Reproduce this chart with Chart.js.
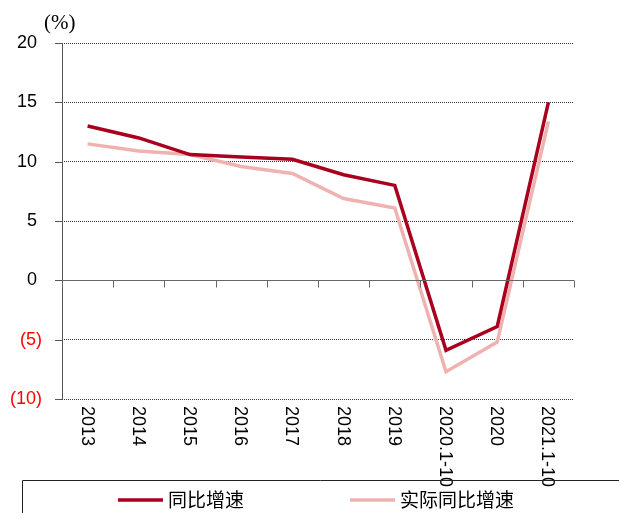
<!DOCTYPE html>
<html>
<head>
<meta charset="utf-8">
<script src="https://cdn.jsdelivr.net/npm/chart.js@4"></script>
<style>
html,body{margin:0;padding:0;background:#fff;}
#wrap{width:619px;height:513px;position:relative;}
</style>
</head>
<body>
<div id="wrap"><canvas id="c" width="619" height="513"></canvas></div>
<script>
const categories = ["2013","2014","2015","2016","2017","2018","2019","2020.1-10","2020","2021.1-10"];
const nominalGrowth = [13.0, 12.0, 10.6, 10.4, 10.2, 8.9, 8.0, -5.9, -3.9, 15.0];
const realGrowth = [11.5, 10.9, 10.6, 9.6, 9.0, 6.9, 6.1, -7.7, -5.2, 13.4];
const seriesNames = ["同比增速", "实际同比增速"];
const yTicks = [-10, -5, 0, 5, 10, 15, 20];
const unitLabel = "(%)";

const RED = "#A8001E";
const PINK = "#EEB2B0";

const decor = {
  id: "decor",
  afterDraw(chart) {
    const ctx = chart.ctx;
    const x = chart.scales.x, y = chart.scales.y;
    const ca = chart.chartArea;
    ctx.save();
    // y-axis tick marks
    ctx.strokeStyle = "#555";
    ctx.lineWidth = 1;
    yTicks.forEach(v => {
      const py = Math.round(y.getPixelForValue(v)) + 0.5;
      ctx.beginPath(); ctx.moveTo(ca.left - 7, py); ctx.lineTo(ca.left, py); ctx.stroke();
    });
    // y-axis line
    ctx.beginPath(); ctx.moveTo(Math.round(ca.left)+0.5, ca.top); ctx.lineTo(Math.round(ca.left)+0.5, ca.bottom); ctx.stroke();
    // zero line (x axis)
    const y0 = Math.round(y.getPixelForValue(0)) + 0.5;
    ctx.strokeStyle = "#666";
    ctx.beginPath(); ctx.moveTo(ca.left, y0); ctx.lineTo(ca.right, y0); ctx.stroke();
    // category boundary ticks
    for (let i = 0; i <= categories.length; i++) {
      let px;
      if (i === 0) px = ca.left;
      else if (i === categories.length) px = ca.right;
      else px = (x.getPixelForValue(i - 1) + x.getPixelForValue(i)) / 2;
      px = Math.round(px) + 0.5;
      ctx.beginPath(); ctx.moveTo(px, y0); ctx.lineTo(px, y0 + 7); ctx.stroke();
    }
    // x labels rotated clockwise
    ctx.fillStyle = "#000";
    ctx.font = "18px 'Liberation Sans', Arial, sans-serif";
    ctx.textAlign = "left";
    ctx.textBaseline = "middle";
    categories.forEach((c, i) => {
      const px = x.getPixelForValue(i);
      ctx.save();
      ctx.translate(px - 1, ca.bottom + 7);
      ctx.rotate(Math.PI / 2);
      ctx.fillText(c, 0, 0);
      ctx.restore();
    });
    // unit label
    ctx.font = "21px 'Liberation Serif', 'DejaVu Serif', serif";
    ctx.textAlign = "left";
    ctx.fillText(unitLabel, 44, 23);
    // legend box
    ctx.strokeStyle = "#222";
    ctx.beginPath(); ctx.moveTo(22.5, 513); ctx.lineTo(22.5, 480.5); ctx.lineTo(619, 480.5); ctx.stroke();
    // legend items
    const items = [
      {name: seriesNames[0], color: RED, x: 118},
      {name: seriesNames[1], color: PINK, x: 350}
    ];
    ctx.font = "19px 'Noto Sans CJK SC', sans-serif";
    items.forEach(it => {
      ctx.strokeStyle = it.color; ctx.lineWidth = 3.5;
      ctx.beginPath(); ctx.moveTo(it.x, 500); ctx.lineTo(it.x + 45, 500); ctx.stroke();
      ctx.fillStyle = "#000";
      ctx.fillText(it.name, it.x + 50, 500);
    });
    ctx.restore();
  }
};

new Chart(document.getElementById("c"), {
  type: "line",
  data: {
    labels: categories,
    datasets: [
      {label: seriesNames[1], data: realGrowth, borderColor: PINK, backgroundColor: PINK, borderWidth: 3.5, pointRadius: 0, tension: 0, order: 2},
      {label: seriesNames[0], data: nominalGrowth, borderColor: RED, backgroundColor: RED, borderWidth: 3.5, pointRadius: 0, tension: 0, order: 1}
    ]
  },
  options: {
    responsive: false,
    animation: false,
    devicePixelRatio: 1,
    layout: {padding: {top: 43, right: 45, bottom: 114, left: 0}},
    plugins: {legend: {display: false}, tooltip: {enabled: false}},
    scales: {
      x: {display: false, offset: true},
      y: {
        min: -10, max: 20,
        afterFit(scale) { scale.width = 62; },
        afterBuildTicks(scale) { scale.ticks = yTicks.map(v => ({value: v})); },
        ticks: {
          padding: 20,
          font: {family: "'Liberation Sans', Arial, sans-serif", size: 18},
          color: ctx => ctx.tick.value < 0 ? "#FF0000" : "#000",
          callback: v => v < 0 ? "(" + Math.abs(v) + ")" : String(v) + " "
        },
        grid: {drawTicks: false, color: "#333", lineWidth: 1},
        border: {display: false, dash: [1, 1]}
      }
    }
  },
  plugins: [decor]
});
</script>
</body>
</html>
